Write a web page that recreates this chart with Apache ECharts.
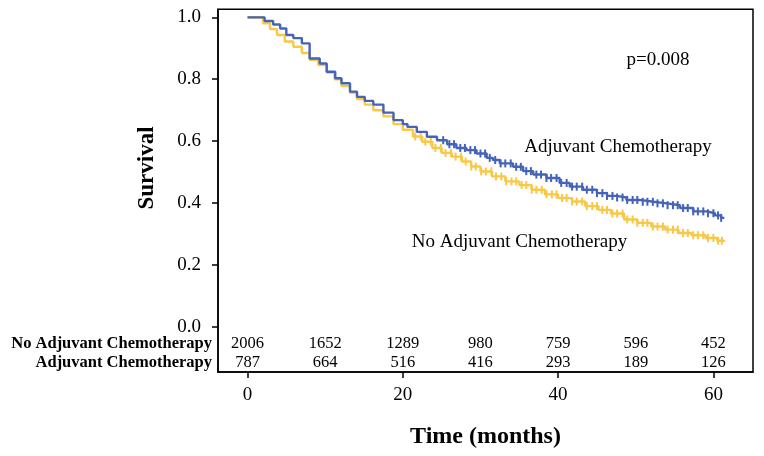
<!DOCTYPE html>
<html>
<head>
<meta charset="utf-8">
<script src="https://cdn.jsdelivr.net/npm/echarts@6/dist/echarts.min.js"></script>
<style>html,body{margin:0;padding:0;background:#fff;}#c{width:764px;height:456px;}</style>
</head>
<body>
<div id="c"></div>
<script>
// Kaplan-Meier step data (time in months, survival)
const adjTimes = [0, 2.2, 3.3, 4.2, 5.0, 5.9, 7.0, 8.0, 9.3, 10.2, 11.3, 12.1, 13.2, 14.1, 15.1, 16.2, 17.5, 18.8, 20.0, 20.6, 21.8, 23.1, 24.4, 25.7, 26.9, 28.2, 29.5, 30.8, 31.6, 32.5, 34.2, 35.5, 36.8, 38.5, 40.2, 41.5, 43.2, 45.0, 46.3, 47.5, 48.8, 50.5, 52.3, 54.0, 55.7, 57.4, 59.1, 60.2, 61.0, 61.4];
const adjSurv  = [1.0, 0.988, 0.977, 0.964, 0.943, 0.933, 0.916, 0.867, 0.851, 0.824, 0.803, 0.787, 0.760, 0.743, 0.730, 0.718, 0.692, 0.668, 0.655, 0.646, 0.630, 0.614, 0.603, 0.590, 0.578, 0.571, 0.560, 0.546, 0.539, 0.528, 0.517, 0.503, 0.492, 0.481, 0.465, 0.453, 0.443, 0.432, 0.423, 0.418, 0.410, 0.404, 0.399, 0.393, 0.384, 0.373, 0.367, 0.360, 0.352, 0.352];
const noTimes  = [0, 2.0, 2.9, 3.8, 4.8, 5.9, 7.0, 8.0, 9.1, 10.2, 11.2, 12.1, 13.2, 14.1, 15.1, 16.2, 17.5, 18.8, 20.0, 21.3, 22.5, 23.8, 25.0, 26.3, 27.6, 28.8, 30.0, 31.5, 33.2, 35.0, 36.6, 38.3, 40.0, 41.8, 43.5, 45.2, 46.8, 48.5, 50.2, 52.0, 53.8, 55.5, 57.2, 59.0, 60.5, 61.4];
const noSurv   = [1.0, 0.981, 0.962, 0.943, 0.922, 0.905, 0.885, 0.863, 0.846, 0.822, 0.800, 0.778, 0.756, 0.736, 0.718, 0.700, 0.680, 0.655, 0.637, 0.615, 0.598, 0.578, 0.562, 0.550, 0.534, 0.518, 0.502, 0.486, 0.470, 0.458, 0.443, 0.428, 0.416, 0.405, 0.390, 0.378, 0.366, 0.347, 0.336, 0.324, 0.314, 0.303, 0.296, 0.287, 0.278, 0.275];
// censoring times
const adjCensor = [25.2, 26.0, 26.6, 27.4, 28.0, 28.7, 29.3, 30.0, 30.6, 31.2, 31.9, 32.6, 33.2, 33.9, 34.6, 35.2, 35.9, 36.5, 37.2, 37.8, 38.5, 39.1, 39.8, 40.4, 41.1, 41.8, 42.4, 43.1, 43.7, 44.4, 45.0, 45.7, 46.3, 47.0, 47.6, 48.3, 48.9, 49.6, 50.2, 50.9, 51.5, 52.2, 52.8, 53.5, 54.1, 54.8, 55.4, 56.1, 56.7, 57.4, 58.0, 58.7, 59.3, 60.0, 60.6, 61.0];
const noCensor  = [21.6, 22.3, 22.9, 23.6, 24.2, 24.9, 25.5, 26.2, 26.8, 27.5, 28.1, 28.8, 29.4, 30.1, 30.7, 31.4, 32.0, 32.7, 33.3, 34.0, 34.6, 35.3, 35.9, 36.6, 37.2, 37.9, 38.5, 39.2, 39.8, 40.5, 41.1, 41.8, 42.4, 43.1, 43.7, 44.4, 45.0, 45.7, 46.3, 47.0, 47.6, 48.3, 48.9, 49.6, 50.2, 50.9, 51.5, 52.2, 52.8, 53.5, 54.1, 54.8, 55.4, 56.1, 56.7, 57.4, 58.0, 58.7, 59.3, 60.0, 60.6, 61.1];
// numbers at risk
const riskTimes = [0, 10, 20, 30, 40, 50, 60];
const riskNo  = [2006, 1652, 1289, 980, 759, 596, 452];
const riskAdj = [787, 664, 516, 416, 293, 189, 126];
const rowNames = ['Adjuvant Chemotherapy', 'No Adjuvant Chemotherapy'];
const xTicks = [0, 20, 40, 60];
const yTicks = [0, 0.2, 0.4, 0.6, 0.8, 1.0];

const ROW_NO_Y = -0.056, ROW_ADJ_Y = -0.1164;
const BLUE = '#4563b8', YELLOW = '#f8c846';
const FONT = '"Liberation Serif", "Times New Roman", serif';

function stepAt(times, surv, t) {
  let v = surv[0];
  for (let i = 0; i < times.length; i++) { if (times[i] <= t) v = surv[i]; else break; }
  return v;
}
const pairs = (a, b) => a.map((t, i) => [t, b[i]]);

const riskLabel = {show: true, position: 'inside', formatter: p => String(p.value[2]), fontFamily: FONT, fontSize: 16.5, color: '#000', textBorderWidth: 0, textShadowBlur: 0};

const chart = echarts.init(document.getElementById('c'), null, {renderer: 'canvas'});
chart.setOption({
  animation: false,
  backgroundColor: '#fff',
  grid: {left: 218, right: 11, top: 9.3, bottom: 84, show: true, borderColor: '#000', borderWidth: 1.5, backgroundColor: 'transparent'},
  xAxis: {
    type: 'value', min: -3.8, max: 65.1,
    axisLine: {show: true, onZero: false, lineStyle: {color: '#000', width: 1.5}},
    axisTick: {show: true, customValues: xTicks, length: 6, lineStyle: {color: '#000', width: 1.5}},
    axisLabel: {customValues: xTicks, color: '#000', fontFamily: FONT, fontSize: 19, margin: 14},
    splitLine: {show: false},
    name: 'Time (months)', nameLocation: 'middle', nameGap: 53,
    nameTextStyle: {color: '#000', fontFamily: FONT, fontSize: 24, fontWeight: 'bold'}
  },
  yAxis: {
    type: 'value', min: -0.146, max: 1.026,
    axisLine: {show: true, onZero: false, lineStyle: {color: '#000', width: 1.5}},
    axisTick: {show: true, customValues: yTicks, length: 6, lineStyle: {color: '#000', width: 1.5}},
    axisLabel: {
      customValues: [ROW_ADJ_Y, ROW_NO_Y].concat(yTicks),
      margin: 6,
      formatter: function (v) {
        if (v < -0.09) return '{row|' + rowNames[0] + '}';
        if (v < -0.01) return '{row|' + rowNames[1] + '}';
        return '{num|' + v.toFixed(1) + '}';
      },
      rich: {
        row: {fontFamily: FONT, fontSize: 16.5, fontWeight: 'bold', color: '#000'},
        num: {fontFamily: FONT, fontSize: 19, color: '#000', padding: [0, 11, 0, 0]}
      }
    },
    splitLine: {show: false}
  },
  graphic: [
    {type: 'text', x: 147, y: 168, rotation: Math.PI / 2, style: {text: 'Survival', fontFamily: FONT, fontSize: 23, fontWeight: 'bold', fill: '#000', align: 'center', verticalAlign: 'middle'}},
    {type: 'text', x: 658, y: 60, style: {text: 'p=0.008', fontFamily: FONT, fontSize: 19, fill: '#000', align: 'center', verticalAlign: 'middle'}},
    {type: 'text', x: 618, y: 147, style: {text: 'Adjuvant Chemotherapy', fontFamily: FONT, fontSize: 19, fill: '#000', align: 'center', verticalAlign: 'middle'}},
    {type: 'text', x: 519.5, y: 242, style: {text: 'No Adjuvant Chemotherapy', fontFamily: FONT, fontSize: 19, fill: '#000', align: 'center', verticalAlign: 'middle'}}
  ],
  series: [
    {type: 'line', step: 'end', data: pairs(noTimes, noSurv), showSymbol: false, lineStyle: {color: YELLOW, width: 2.4}, z: 2},
    {type: 'line', step: 'end', data: pairs(adjTimes, adjSurv), showSymbol: false, lineStyle: {color: BLUE, width: 2.4}, z: 3},
    {type: 'scatter', data: noCensor.map(t => [t, stepAt(noTimes, noSurv, t)]), symbol: 'rect', symbolSize: [2, 8], itemStyle: {color: YELLOW, opacity: 1}, z: 2},
    {type: 'scatter', data: adjCensor.map(t => [t, stepAt(adjTimes, adjSurv, t)]), symbol: 'rect', symbolSize: [2, 8], itemStyle: {color: BLUE, opacity: 1}, z: 3},
    {type: 'scatter', data: riskTimes.map((t, i) => [t, ROW_NO_Y, riskNo[i]]), symbolSize: 0, itemStyle: {opacity: 1}, label: riskLabel},
    {type: 'scatter', data: riskTimes.map((t, i) => [t, ROW_ADJ_Y, riskAdj[i]]), symbolSize: 0, itemStyle: {opacity: 1}, label: riskLabel}
  ]
});
</script>
</body>
</html>
